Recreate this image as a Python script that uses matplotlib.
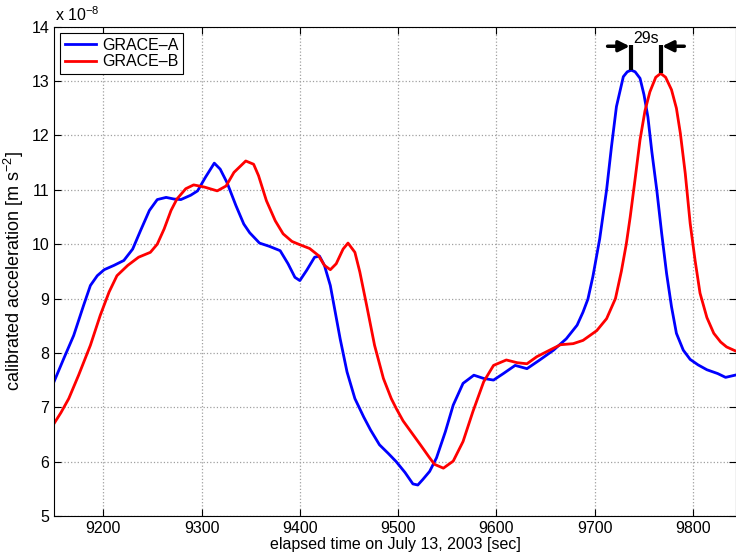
import matplotlib.pyplot as plt

# accelerometer traces, values in units of 1e-8 m/s^2
t_a = [9150, 9160, 9170, 9180, 9187, 9194, 9201, 9211, 9221, 9230, 9238, 9247,
       9255, 9264, 9272, 9279, 9289, 9296, 9304, 9313, 9319, 9326, 9335, 9343,
       9349, 9359, 9369, 9380, 9388, 9395, 9400, 9407, 9415, 9420, 9425, 9431,
       9436, 9441, 9448, 9456, 9465, 9472, 9481, 9490, 9498, 9507, 9515, 9520,
       9525, 9532, 9539, 9548, 9556, 9566, 9577, 9587, 9597, 9607, 9619, 9631,
       9644, 9658, 9671, 9682, 9688, 9693, 9698, 9705, 9712, 9717, 9722, 9729,
       9733, 9737, 9741, 9746, 9750, 9754, 9758, 9763, 9768, 9773, 9778, 9783,
       9790, 9797, 9805, 9814, 9825, 9833, 9845]
acc_a = [7.47, 7.90, 8.32, 8.87, 9.24, 9.42, 9.53, 9.61, 9.70, 9.91, 10.25, 10.62,
         10.82, 10.86, 10.83, 10.82, 10.90, 10.98, 11.23, 11.49, 11.38, 11.13, 10.71, 10.37,
         10.21, 10.02, 9.96, 9.88, 9.64, 9.39, 9.33, 9.52, 9.76, 9.78, 9.61, 9.24,
         8.75, 8.26, 7.65, 7.16, 6.82, 6.58, 6.31, 6.15, 6.00, 5.80, 5.59, 5.57,
         5.67, 5.82, 6.07, 6.55, 7.04, 7.44, 7.59, 7.53, 7.50, 7.62, 7.77, 7.71,
         7.87, 8.05, 8.26, 8.51, 8.75, 8.99, 9.40, 10.10, 11.00, 11.80, 12.53, 13.08,
         13.17, 13.20, 13.17, 13.05, 12.75, 12.34, 11.70, 11.00, 10.20, 9.46, 8.85, 8.36,
         8.05, 7.88, 7.78, 7.69, 7.62, 7.55, 7.60]

t_b = [9150, 9157, 9165, 9175, 9187, 9197, 9206, 9214, 9225, 9236, 9248, 9255,
       9262, 9269, 9275, 9284, 9292, 9303, 9316, 9325, 9333, 9345, 9353, 9358,
       9366, 9375, 9383, 9392, 9400, 9410, 9419, 9425, 9431, 9437, 9444, 9449,
       9456, 9461, 9468, 9476, 9485, 9493, 9498, 9505, 9515, 9523, 9532, 9537,
       9546, 9556, 9566, 9576, 9587, 9597, 9610, 9621, 9631, 9641, 9654, 9665,
       9678, 9688, 9702, 9712, 9721, 9727, 9732, 9736, 9741, 9746, 9751, 9756,
       9762, 9767, 9772, 9778, 9783, 9787, 9792, 9797, 9802, 9807, 9814, 9821,
       9828, 9834, 9845]
acc_b = [6.70, 6.90, 7.16, 7.59, 8.14, 8.69, 9.12, 9.42, 9.61, 9.76, 9.85, 10.00,
         10.28, 10.62, 10.83, 11.02, 11.09, 11.05, 10.98, 11.07, 11.32, 11.53, 11.47, 11.26,
         10.80, 10.43, 10.19, 10.05, 9.99, 9.92, 9.79, 9.61, 9.53, 9.64, 9.91, 10.02,
         9.85, 9.49, 8.87, 8.14, 7.53, 7.16, 6.98, 6.75, 6.50, 6.30, 6.07, 5.95,
         5.88, 6.01, 6.37, 6.92, 7.47, 7.77, 7.87, 7.82, 7.80, 7.93, 8.05, 8.15,
         8.17, 8.23, 8.41, 8.63, 9.00, 9.50, 10.00, 10.50, 11.20, 11.92, 12.45, 12.80,
         13.07, 13.14, 13.07, 12.84, 12.50, 12.04, 11.30, 10.38, 9.70, 9.10, 8.65, 8.36,
         8.20, 8.11, 8.02]

peak_a = (9737, 13.20)
peak_b = (9767, 13.14)
lag_label = '29s'

plt.rcParams['font.family'] = ['Liberation Sans', 'DejaVu Sans']
plt.rcParams['mathtext.fontset'] = 'custom'
plt.rcParams['mathtext.rm'] = 'Liberation Sans'
plt.rcParams['mathtext.it'] = 'Liberation Sans'

fig = plt.figure(figsize=(7.36, 5.57), dpi=100)
ax = fig.add_axes([0.0734, 0.0736, 0.9266, 0.8785])

ax.plot(t_a, acc_a, color='#0000ff', linewidth=2, label='GRACE\u2013A')
ax.plot(t_b, acc_b, color='#ff0000', linewidth=2, label='GRACE\u2013B')

ax.set_xlim(9150, 9843.6)
ax.set_ylim(5, 14)
ax.set_xticks([9200, 9300, 9400, 9500, 9600, 9700, 9800])
ax.set_yticks(range(5, 15))
ax.tick_params(direction='in', top=True, right=True, length=5, labelsize=11.5)
ax.grid(True, color='#a0a0a0', linestyle=':', linewidth=0.9)
for s in ax.spines.values():
    s.set_linewidth(0.8)

# peak markers and time-lag arrows
top = 13.66
ax.plot([peak_a[0], peak_a[0]], [peak_a[1], top], color='k', linewidth=3, solid_capstyle='butt')
ax.plot([peak_b[0], peak_b[0]], [peak_b[1], top], color='k', linewidth=3, solid_capstyle='butt')
arrow = dict(arrowstyle='-|>', color='k', lw=2.5, mutation_scale=16, shrinkA=0, shrinkB=0)
ax.annotate('', xy=(peak_a[0] - 1.5, 13.64), xytext=(peak_a[0] - 24, 13.64), arrowprops=arrow)
ax.annotate('', xy=(peak_b[0] + 1.5, 13.64), xytext=(peak_b[0] + 24, 13.64), arrowprops=arrow)
ax.text((peak_a[0] + peak_b[0]) / 2, 13.79, lag_label, ha='center', va='center', fontsize=11.5)

ax.set_xlabel('elapsed time on July 13, 2003 [sec]', fontsize=11.5, labelpad=1)
ax.set_ylabel(r'calibrated acceleration [m s$^{-2}$]', fontsize=13, labelpad=4)
fig.text(0.075, 0.962, r'x 10$^{-8}$', fontsize=11.5, ha='left', va='baseline')

leg = ax.legend(loc='upper left', fontsize=11.5, fancybox=False, edgecolor='k',
                framealpha=1, borderaxespad=0.4, handlelength=1.9, borderpad=0.3,
                labelspacing=0.1, handletextpad=0.4)
leg.get_frame().set_linewidth(0.8)

fig.savefig('out.png', dpi=100)
